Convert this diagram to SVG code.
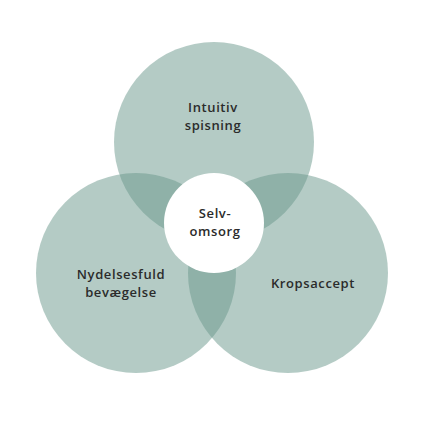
<svg xmlns="http://www.w3.org/2000/svg" width="423" height="423" viewBox="0 0 423 423">
<style>
.c{fill:#6a978b;fill-opacity:0.5}
.t{font-family:"Open Sans","Liberation Sans",sans-serif;font-weight:600;font-size:13px;letter-spacing:0.6px;fill:#2b2b2b;text-anchor:middle}
</style>
<rect width="423" height="423" fill="#ffffff"/>
<g id="intuitiv">
<circle class="c" cx="214" cy="142" r="100"/>
</g>
<g id="nydelsesfuld">
<circle class="c" cx="136" cy="273" r="100"/>
</g>
<g id="kropsaccept">
<circle class="c" cx="288" cy="273" r="100"/>
</g>
<g id="selvomsorg">
<circle cx="214" cy="223" r="50" fill="#ffffff"/>
<text class="t" x="215" y="218">Selv-</text>
<text class="t" x="215" y="236">omsorg</text>
</g>
<g id="labels">
<text class="t" x="213" y="112">Intuitiv</text>
<text class="t" x="213" y="130">spisning</text>
<text class="t" x="121" y="279">Nydelsesfuld</text>
<text class="t" x="121" y="297">bevægelse</text>
<text class="t" x="313" y="288">Kropsaccept</text>
</g>
<g id="connectors"></g>
</svg>
